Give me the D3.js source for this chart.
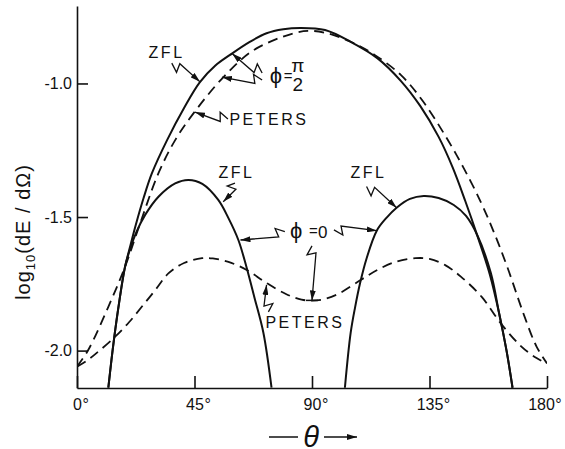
<!DOCTYPE html>
<html>
<head>
<meta charset="utf-8">
<script src="https://cdn.jsdelivr.net/npm/d3@7"></script>
<style>
  body { margin: 0; background: #fff; }
  svg { display: block; font-family: "Liberation Sans", Arial, sans-serif; }
  .axis path, .axis line { stroke: #111; stroke-width: 1.6; }
  .axis text { font-size: 16px; fill: #111; font-family: "Liberation Sans", Arial, sans-serif; }
  .curve { fill: none; stroke: #111; stroke-width: 2; }
  .dashed { stroke-dasharray: 10,6; stroke-width: 1.8; }
  .lbl { font-size: 16px; letter-spacing: 2.5px; fill: #111; }
  .arrow { fill: none; stroke: #111; stroke-width: 1.3; stroke-linejoin: miter; }
</style>
</head>
<body>
<div id="chart"></div>
<script>

// theta in degrees, values are log10(dE/dOmega)
// ZFL, phi = 0 (two lobes)
var zflZeroLeftTheta = [12.0, 13.2, 14.3, 16.0, 18.4, 20.5, 22.9, 26.1, 31.2, 37.6, 42.7, 48.0, 54.1, 58.0, 61.8, 64.9, 68.0, 71.4, 74.5];
var zflZeroLeftValue = [-2.139, -2.035, -1.948, -1.829, -1.686, -1.615, -1.553, -1.492, -1.424, -1.374, -1.361, -1.376, -1.436, -1.504, -1.586, -1.687, -1.803, -1.934, -2.139];

var zflZeroRightTheta = [102.6, 104.8, 106.5, 108.4, 110.9, 114.8, 118.6, 122.4, 127.5, 132.8, 138.5, 144.3, 149.0, 153.4, 158.5, 161.7, 164.5, 166.8];
var zflZeroRightValue = [-2.139, -1.934, -1.838, -1.748, -1.655, -1.551, -1.502, -1.465, -1.432, -1.421, -1.429, -1.455, -1.496, -1.570, -1.710, -1.862, -2.000, -2.139];

// ZFL, phi = pi/2
var zflHalfPiTheta = [12.0, 13.2, 14.3, 16.0, 18.4, 20.5, 22.5, 25.5, 28.7, 34.5, 41.0, 47.0, 53.0, 58.6, 66.0, 72.6, 79.0, 85.6, 95.0, 104.8, 115.0, 124.0, 131.5, 138.5, 143.9, 148.7, 153.5, 158.1, 161.7, 164.5, 166.8];
var zflHalfPiValue = [-2.139, -2.035, -1.948, -1.829, -1.686, -1.605, -1.530, -1.429, -1.336, -1.212, -1.092, -0.996, -0.933, -0.893, -0.845, -0.812, -0.797, -0.792, -0.800, -0.844, -0.905, -0.990, -1.085, -1.200, -1.315, -1.440, -1.575, -1.715, -1.862, -2.000, -2.139];

// Peters, phi = pi/2
var petersHalfPiTheta = [0, 4.3, 12.0, 18.4, 24.2, 31.2, 37.6, 44.6, 56.2, 67.7, 83.0, 89.0, 95.8, 104.8, 114.0, 124.0, 132.0, 140.7, 148.0, 154.7, 160.0, 164.9, 171.3, 176.0, 180];
var petersHalfPiValue = [-2.060, -1.998, -1.836, -1.686, -1.523, -1.336, -1.212, -1.112, -0.975, -0.875, -0.812, -0.803, -0.812, -0.844, -0.893, -0.968, -1.060, -1.190, -1.315, -1.445, -1.565, -1.690, -1.870, -1.985, -2.048];

// Peters, phi = 0
var petersZeroTheta = [0, 3, 7, 14.6, 20, 24.8, 30, 35, 41, 47.9, 52, 58, 65, 72, 80, 86, 90, 94, 100, 108.6, 115, 122, 129.7, 135, 141, 147, 155, 162.3, 170, 176, 180];
var petersZeroValue = [-2.060, -2.043, -2.013, -1.948, -1.893, -1.836, -1.773, -1.711, -1.672, -1.654, -1.655, -1.668, -1.698, -1.743, -1.788, -1.809, -1.813, -1.809, -1.788, -1.736, -1.698, -1.668, -1.654, -1.657, -1.680, -1.723, -1.799, -1.898, -1.983, -2.028, -2.048];

var xTicks = [0, 45, 90, 135, 180];
var xTickLabels = ["0", "45", "90", "135", "180"];
var yTicks = [-1.0, -1.5, -2.0];
var yTickLabels = ["-1.0", "-1.5", "-2.0"];

// curve labels: [text, theta, value]
var labels = [
    ["ZFL", 34.3, -0.905],
    ["PETERS", 73.5, -1.155],
    ["ZFL", 61.1, -1.354],
    ["ZFL", 111.6, -1.354],
    ["PETERS", 87.3, -1.915]
];

// pointer arrows: [fromTheta, fromValue, toTheta, toValue, bar at tip]
var pointers = [
    [36.3, -0.924, 47.1, -0.994, false],
    [70.9, -0.961, 59.4, -0.888, false],
    [70.9, -0.987, 55.5, -0.976, false],
    [57.8, -1.133, 45.2, -1.107, false],
    [60.5, -1.373, 56.0, -1.443, false],
    [110.9, -1.386, 122.4, -1.465, false],
    [79.6, -1.555, 62.6, -1.586, false],
    [98.4, -1.548, 114.8, -1.551, false],
    [90.0, -1.608, 90.0, -1.812, true],
    [73.3, -1.855, 72.6, -1.754, false]
];

var margin = {top: 6, right: 18, bottom: 61, left: 77},
    width = 565 - margin.left - margin.right,
    height = 449 - margin.top - margin.bottom;

var svg = d3.select("#chart").append("svg")
    .attr("width", 565)
    .attr("height", 449);

svg.append("defs").append("marker")
    .attr("id", "head")
    .attr("markerUnits", "userSpaceOnUse")
    .attr("viewBox", "0 0 10 6")
    .attr("markerWidth", 10)
    .attr("markerHeight", 6)
    .attr("refX", 10)
    .attr("refY", 3)
    .attr("orient", "auto")
    .append("path")
    .attr("d", "M0,0 L10,3 L0,6 Z")
    .attr("fill", "#111");

var g = svg.append("g")
    .attr("transform", "translate(" + margin.left + "," + margin.top + ")");

var x = d3.scaleLinear().domain([0, 180]).range([0, width]);
var y = d3.scaleLinear().domain([-2.14, -0.71]).range([height, 0]);

// axes, ticks pointing inward
var xAxisG = g.append("g")
    .attr("class", "axis")
    .attr("transform", "translate(0," + height + ")")
    .call(d3.axisBottom(x).tickValues(xTicks).tickSizeInner(-12).tickSizeOuter(0).tickPadding(11)
        .tickFormat(function(d, i) { return xTickLabels[i]; }));

// last label is pulled in a little, as in the figure
xAxisG.selectAll(".tick text")
    .attr("dx", function(d, i) { return i === xTicks.length - 1 ? -6 : 0; });

xAxisG.selectAll(".tick").each(function(d, i) {
    var t = d3.select(this).select("text");
    var w = t.node().getComputedTextLength();
    d3.select(this).append("text")
        .attr("x", w / 2 + 0.5 + (i === xTicks.length - 1 ? -6 : 0))
        .attr("y", t.attr("y"))
        .attr("dy", "0.71em")
        .attr("text-anchor", "start")
        .attr("fill", "#111")
        .text("°");
});

g.append("g")
    .attr("class", "axis")
    .call(d3.axisLeft(y).tickValues(yTicks).tickSizeInner(-11).tickSizeOuter(0).tickPadding(5)
        .tickFormat(function(d, i) { return yTickLabels[i]; }));

// curves
var line = d3.line()
    .x(function(d) { return x(d[0]); })
    .y(function(d) { return y(d[1]); })
    .curve(d3.curveCatmullRom.alpha(0.5));

function pairs(t, v) {
    return t.map(function(d, i) { return [d, v[i]]; });
}

g.append("clipPath").attr("id", "plot-clip")
    .append("rect").attr("width", width).attr("height", height);

var curves = g.append("g").attr("clip-path", "url(#plot-clip)");

curves.append("path").datum(pairs(zflZeroLeftTheta, zflZeroLeftValue)).attr("class", "curve").attr("d", line);
curves.append("path").datum(pairs(zflZeroRightTheta, zflZeroRightValue)).attr("class", "curve").attr("d", line);
curves.append("path").datum(pairs(zflHalfPiTheta, zflHalfPiValue)).attr("class", "curve").attr("d", line);
curves.append("path").datum(pairs(petersHalfPiTheta, petersHalfPiValue)).attr("class", "curve dashed").attr("d", line);
curves.append("path").datum(pairs(petersZeroTheta, petersZeroValue)).attr("class", "curve dashed").attr("d", line);

// labels
g.selectAll(".lbl")
    .data(labels)
    .enter()
    .append("text")
    .attr("class", "lbl")
    .attr("text-anchor", "middle")
    .attr("x", function(d) { return x(d[1]); })
    .attr("y", function(d) { return y(d[2]); })
    .text(function(d) { return d[0]; });

// phi = pi/2
var phiHalf = g.append("g")
    .attr("transform", "translate(" + x(73.8) + "," + y(-1.0) + ")")
    .attr("fill", "#111");
phiHalf.append("text").attr("x", 0).attr("y", 0).attr("font-size", 22).text("ϕ");
phiHalf.append("text").attr("x", 14).attr("y", -2).attr("font-size", 15).text("=");
phiHalf.append("text").attr("x", 28).attr("y", -11).attr("font-size", 19).attr("text-anchor", "middle").text("π");
phiHalf.append("text").attr("x", 28).attr("y", 8).attr("font-size", 19).attr("text-anchor", "middle").text("2");

// phi = 0
var phiZero = g.append("g")
    .attr("transform", "translate(" + x(89.2) + "," + y(-1.578) + ")")
    .attr("fill", "#111");
phiZero.append("text").attr("x", -20).attr("y", 0).attr("font-size", 22).text("ϕ");
phiZero.append("text").attr("x", -1).attr("y", -2).attr("font-size", 15).text("=");
phiZero.append("text").attr("x", 8).attr("y", 0).attr("font-size", 17).text("0");

// lightning-style pointers
function squiggle(d) {
    var x0 = x(d[0]), y0 = y(d[1]), x1 = x(d[2]), y1 = y(d[3]);
    var dx = x1 - x0, dy = y1 - y0, len = Math.sqrt(dx * dx + dy * dy);
    var ux = dx / len, uy = dy / len, nx = -uy, ny = ux;
    var s = Math.min(9, len * 0.3);
    return "M" + x0 + "," + y0 +
        "L" + (x0 + ux * s + nx * 5) + "," + (y0 + uy * s + ny * 5) +
        "L" + (x0 + ux * (s - 2) - nx * 4) + "," + (y0 + uy * (s - 2) - ny * 4) +
        "L" + x1 + "," + y1;
}

g.selectAll(".arrow")
    .data(pointers)
    .enter()
    .append("path")
    .attr("class", "arrow")
    .attr("d", squiggle)
    .attr("marker-end", "url(#head)");

g.selectAll(".tip-bar")
    .data(pointers.filter(function(d) { return d[4]; }))
    .enter()
    .append("line")
    .attr("class", "tip-bar")
    .attr("x1", function(d) { return x(d[2]) - 6; })
    .attr("x2", function(d) { return x(d[2]) + 6; })
    .attr("y1", function(d) { return y(d[3]); })
    .attr("y2", function(d) { return y(d[3]); })
    .attr("stroke", "#111")
    .attr("stroke-width", 1.5);

// axis titles
var yTitle = svg.append("text")
    .attr("transform", "translate(30," + (margin.top + y(-1.556)) + ") rotate(-90)")
    .attr("text-anchor", "middle")
    .attr("font-size", 20)
    .attr("letter-spacing", 1)
    .attr("fill", "#111");
yTitle.append("tspan").text("log");
yTitle.append("tspan").attr("dy", 5).attr("font-size", 13).text("10");
yTitle.append("tspan").attr("dy", -5).text("(dE / dΩ)");

var xTitle = svg.append("g")
    .attr("transform", "translate(" + (margin.left + x(90)) + ",437)");
xTitle.append("line").attr("x1", -43).attr("x2", -14).attr("y1", 0).attr("y2", 0)
    .attr("stroke", "#111").attr("stroke-width", 1.5);
xTitle.append("line").attr("x1", 12).attr("x2", 45).attr("y1", 0).attr("y2", 0)
    .attr("stroke", "#111").attr("stroke-width", 1.5)
    .attr("marker-end", "url(#head)");
xTitle.append("text")
    .attr("x", -1)
    .attr("y", 10)
    .attr("text-anchor", "middle")
    .attr("font-size", 29)
    .attr("font-style", "italic")
    .attr("fill", "#111")
    .text("θ");

</script>
</body>
</html>
